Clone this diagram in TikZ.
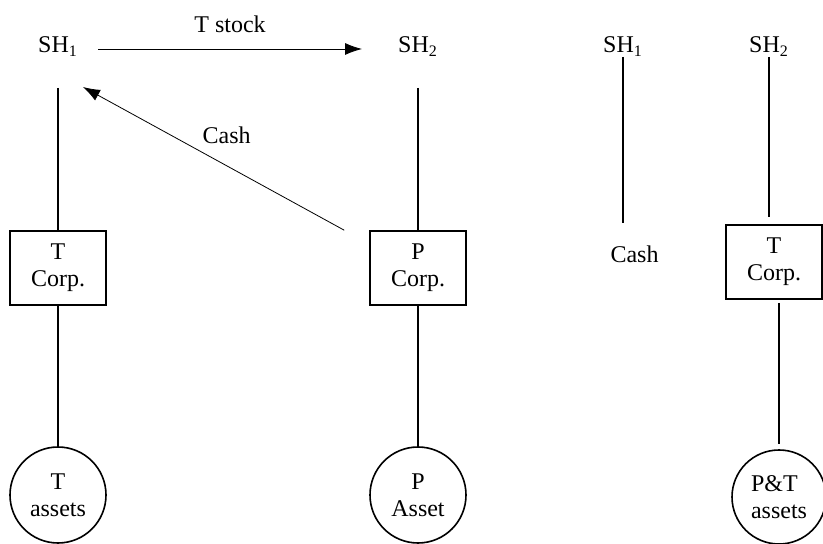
\documentclass[tikz,border=0pt]{standalone}
\usepackage{fontspec}
\setmainfont{Liberation Serif}
\usetikzlibrary{arrows.meta,positioning}
\tikzset{%
	txt/.style    = {font=\fontsize{12}{13.5}\selectfont, inner sep=0pt},
	holder/.style = {txt, anchor=base},
	corp/.style   = {txt, draw, rectangle, line width=.8pt, minimum width=48pt, minimum height=37pt, align=center},
	assets/.style = {txt, draw, circle, line width=.8pt, minimum size=48pt, align=center},
	link/.style   = {line width=.8pt},
	flow/.style   = {line width=.4pt, -{Latex[length=8.5pt,width=6pt]}},
}
\begin{document}
\begin{tikzpicture}[x=.5pt,y=-.5pt]
	\useasboundingbox (0,0) rectangle (823,544);
	% before the deal
	\node[holder] (sh1) at (58,53) {SH\textsubscript{1}};
	\node[holder] (sh2) at (418,53) {SH\textsubscript{2}};
	\node[corp] (tcorp) at (58,268) {T\\Corp.};
	\node[corp] (pcorp) at (418,268) {P\\Corp.};
	\node[assets] (tassets) at (58,495) {T\\assets};
	\node[assets] (passet) at (418,495) {P\\Asset};
	\draw[link] ([yshift=-17.5pt]sh1.base) -- (tcorp.north);
	\draw[link] (tcorp.south) -- (tassets.north);
	\draw[link] ([yshift=-17.5pt]sh2.base) -- (pcorp.north);
	\draw[link] (pcorp.south) -- (passet.north);
	\draw[flow] ([xshift=20pt,yshift=2pt]sh1.base) -- ([xshift=-28pt,yshift=2pt]sh2.base)
		node[txt,midway,above=8pt] {T stock};
	\draw[flow] ([xshift=-12.5pt]pcorp.north west) -- ([xshift=12.5pt,yshift=-17pt]sh1.base)
		node[txt,pos=.45,above=11pt] {Cash};
	% after the deal
	\node[holder] (sh1b) at (623,53) {SH\textsubscript{1}};
	\node[holder] (sh2b) at (769,53) {SH\textsubscript{2}};
	\node[holder] (cash) at (634.5,263) {Cash};
	\node[corp] (newcorp) at (774,262) {T\\Corp.};
	\node[assets,align=left,minimum size=47pt] (ptassets) at (779,497) {P\&T\\assets};
	\coordinate (cashtop) at ([yshift=20pt]cash.base);
	\coordinate (corptop) at ([yshift=3.5pt]newcorp.north);
	\coordinate (corpbot) at ([yshift=-1.5pt]newcorp.south);
	\draw[link] ([yshift=-2pt]sh1b.base) -- (sh1b |- cashtop);
	\draw[link] ([yshift=-2pt]sh2b.base) -- (sh2b |- corptop);
	\draw[link] (ptassets |- corpbot) -- ([yshift=2.5pt]ptassets.north);
\end{tikzpicture}
\end{document}
